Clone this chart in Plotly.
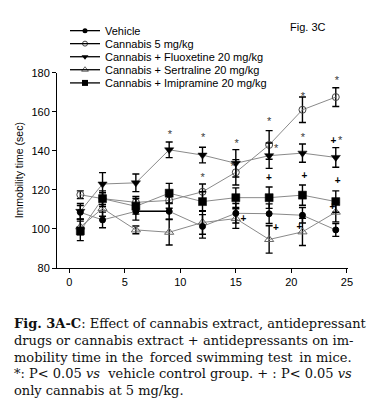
import plotly.graph_objects as go

# ---------------- data ----------------
days = [1, 3, 6, 9, 12, 15, 18, 21, 24]

vehicle = [108.5, 104.6, 109, 109, 101.3, 108, 107.8, 107, 99.5]
vehicle_err = [3.5, 4, 4.5, 4, 6, 5, 5, 4, 3.3]
cannabis = [117.5, 115.5, 113.6, 114.6, 119, 129, 143, 161, 167.5]
cannabis_err = [2, 3, 3, 4, 4, 6.5, 7.3, 6.5, 4.8]
fluox = [109, 123, 123.6, 140.5, 137.8, 133.6, 137.5, 138.8, 136.6]
fluox_err = [4, 5.8, 4.5, 4, 4, 7, 6.5, 4.7, 5]
sert = [101, 110.5, 99.5, 98.3, 103.3, 105.3, 94.6, 98.5, 108.6]
sert_err = [4, 4, 2, 6.5, 6, 5, 7, 7, 5]
imip = [99, 115.5, 111.6, 118.3, 114, 116, 116, 117.3, 114]
imip_err = [5, 4, 4, 5, 5, 5, 5.5, 5.2, 5.5]

series_names = ["Vehicle", "Cannabis 5 mg/kg", "Cannabis + Fluoxetine 20 mg/kg",
                "Cannabis + Sertraline 20 mg/kg", "Cannabis + Imipramine 20 mg/kg"]

star_x = [9.07, 12.05, 15.08, 14.72, 12.02, 18.0, 18.62, 21.03, 21.03, 24.39, 24.1]
star_y = [148, 146.6, 143.6, 131.6, 125.8, 154.5, 140.8, 167.5, 146.6, 145, 175.8]
plus_x = [15.68, 17.99, 21.17, 24.18, 18.62, 20.72, 23.69, 23.78]
plus_y = [104.8, 126, 126.6, 124.5, 100, 100.8, 111, 144.5]

y_ticks = [80, 100, 120, 140, 160, 180]
x_ticks = [0, 5, 10, 15, 20, 25]

TS = "\u2009"  # thin space used to approximate the justified caption
caption_lines = [
    "<b>Fig. 3A-C</b>: Effect of cannabis extract, antidepressant",
    "drugs or cannabis extract + antidepressants on im-",
    "mobility time in the" + TS + " forced swimming test" + TS + " in mice.",
    "*: P&lt; 0.05 <i>vs</i>  vehicle control group. + : P&lt; 0.05 <i>vs</i>",
    "only cannabis at 5 mg/kg.",
]

# ---------------- geometry helpers (pixel -> paper) ----------------
W, H = 367, 404
ML, MR, MT, MB = 57, 19, 10, 136
PW, PH = W - ML - MR, H - MT - MB
AX_BOTTOM, AX_TOP = 268, 68


def px_x(x):
    return (x - ML) / PW


def px_y(y):
    return (H - MB - y) / PH


# ---------------- styles ----------------
FONT = "Arial, Liberation Sans, sans-serif"
LINE_GRAY = "#8a8a8a"
styles = [
    dict(symbol="circle", size=6, color="black", line=dict(color="black", width=1)),
    dict(symbol="circle-open", size=7, color="#444", line=dict(color="#444", width=1)),
    dict(symbol="triangle-down", size=8, color="black", line=dict(color="black", width=0.5)),
    dict(symbol="triangle-up-open", size=8, color="#666", line=dict(color="#666", width=1)),
    dict(symbol="square", size=8, color="black", line=dict(color="black", width=0.5)),
]
leg_styles = [
    dict(symbol="circle", size=5, color="black"),
    dict(symbol="circle-open", size=5, color="#444", line=dict(color="#444", width=1)),
    dict(symbol="triangle-down", size=6, color="black"),
    dict(symbol="triangle-up-open", size=6, color="#666", line=dict(color="#666", width=1)),
    dict(symbol="square", size=6, color="black"),
]

values = [vehicle, cannabis, fluox, sert, imip]
errors = [vehicle_err, cannabis_err, fluox_err, sert_err, imip_err]

fig = go.Figure()
order = [3, 0, 1, 2, 4]
for i in order:
    fig.add_trace(go.Scatter(
        x=days, y=values[i], mode="lines+markers", name=series_names[i],
        line=dict(color=LINE_GRAY, width=1),
        marker=styles[i],
        error_y=dict(type="data", array=errors[i], visible=True,
                     color="black", thickness=1.4, width=3.5),
        showlegend=False, cliponaxis=False,
    ))

# black vehicle segment between day 6 and day 9
fig.add_trace(go.Scatter(x=days[2:4], y=vehicle[2:4], mode="lines",
                         line=dict(color="black", width=1.5), showlegend=False,
                         hoverinfo="skip"))

# significance marks
fig.add_trace(go.Scatter(x=star_x, y=star_y, mode="text", text=["*"] * len(star_x),
                         textfont=dict(family=FONT, size=11, color="#3a3a3a"),
                         textposition="middle center", showlegend=False, cliponaxis=False))
fig.add_trace(go.Scatter(x=plus_x, y=plus_y, mode="text", text=["<b>+</b>"] * len(plus_x),
                         textfont=dict(family=FONT, size=10, color="black"),
                         textposition="middle center", showlegend=False, cliponaxis=False))

# ---------------- manual legend ----------------
leg_rows_px = [25, 38.3, 51.7, 65, 78.5]
shapes = []
annotations = []
for i, name in enumerate(series_names):
    yy = px_y(leg_rows_px[i])
    shapes.append(dict(type="line", xref="paper", yref="paper", x0=px_x(70), x1=px_x(100),
                       y0=yy, y1=yy, line=dict(color="black", width=1.3)))
    annotations.append(dict(xref="paper", yref="paper", x=px_x(103), y=yy, text=name,
                            showarrow=False, xanchor="left", yanchor="middle",
                            font=dict(family=FONT, size=11, color="black")))
    fig.add_trace(go.Scatter(x=[px_x(85)], y=[yy], mode="markers", marker=leg_styles[i],
                             xaxis="x2", yaxis="y2", showlegend=False, cliponaxis=False,
                             hoverinfo="skip"))

annotations.append(dict(xref="paper", yref="paper", x=px_x(288), y=px_y(21), text="Fig. 3C",
                        showarrow=False, xanchor="left", yanchor="middle",
                        font=dict(family=FONT, size=11, color="black")))
annotations.append(dict(xref="paper", yref="paper", x=px_x(19), y=px_y(168),
                        text="Immobility time (sec)", textangle=-90, showarrow=False,
                        xanchor="center", yanchor="middle",
                        font=dict(family=FONT, size=10.5, color="black")))

cap_px = [325, 342.3, 359.3, 376, 393.3]
for t, yy in zip(caption_lines, cap_px):
    annotations.append(dict(xref="paper", yref="paper", x=px_x(12), y=px_y(yy), text=t,
                            showarrow=False, xanchor="left", yanchor="middle",
                            font=dict(family="DejaVu Serif, serif", size=13, color="#111")))

fig.update_layout(
    width=W, height=H,
    margin=dict(l=ML, r=MR, t=MT, b=MB),
    paper_bgcolor="white", plot_bgcolor="rgba(0,0,0,0)",
    showlegend=False,
    shapes=shapes, annotations=annotations,
    xaxis=dict(range=[-1.1, 25.1], tickvals=x_ticks, ticks="outside", ticklen=4,
               tickcolor="black", showline=True, linecolor="black", linewidth=1,
               showgrid=False, zeroline=False, anchor="y",
               tickfont=dict(family=FONT, size=11, color="black")),
    yaxis=dict(range=[80, 180], tickvals=y_ticks, ticks="outside", ticklen=4,
               domain=[0, (AX_BOTTOM - AX_TOP) / PH],
               tickcolor="black", showline=True, linecolor="black", linewidth=1,
               showgrid=False, zeroline=False, anchor="x",
               tickfont=dict(family=FONT, size=11, color="black")),
    xaxis2=dict(domain=[0, 1], range=[0, 1], visible=False, anchor="y2"),
    yaxis2=dict(domain=[0, 1], range=[0, 1], visible=False, anchor="x2"),
)

fig.write_html("out.html", config={"displayModeBar": False},
               post_script="document.body.style.margin='0px';")
